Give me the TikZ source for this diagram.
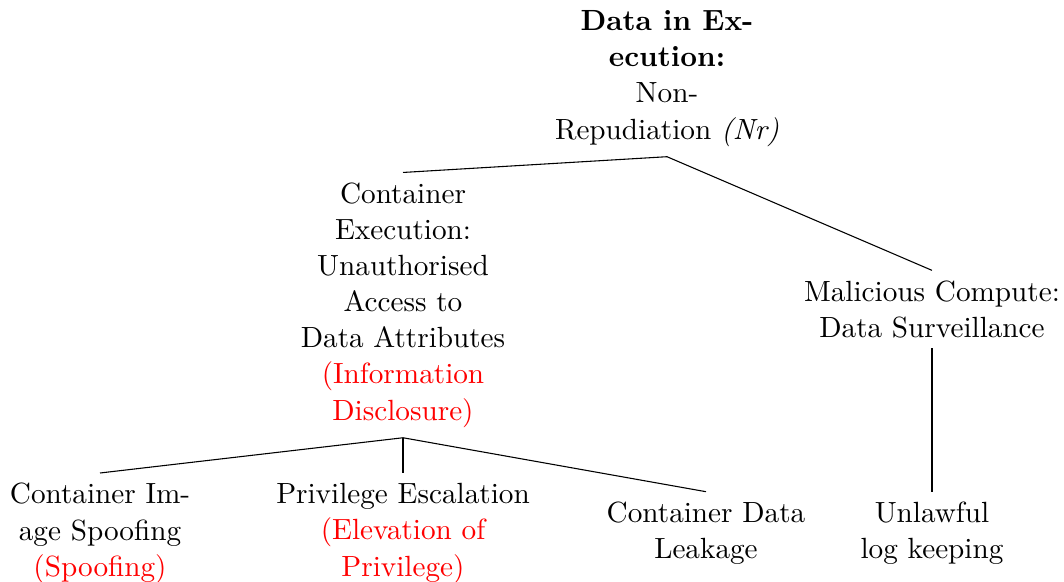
\documentclass[tikz,border=0pt]{standalone}
\usepackage{tikz}
\usetikzlibrary{positioning}
\usepackage{xcolor}
\definecolor{stride}{HTML}{FF0000}

\begin{document}
\begin{tikzpicture}[font=\fontsize{9.74}{12.04}\selectfont,
    t/.style={align=center, inner sep=3.25pt},
    e/.style={draw=black, line width=0.36pt}]
    \useasboundingbox (0,0) rectangle (12.467,-6.819);
    \node[t] (root) at (7.815,-0.920) {\textbf{Data in Ex-}\\ \textbf{ecution:}\\ Non-\\ Repudiation \textit{(Nr)}};
    \node[t] (exec) at (4.722,-3.575) {Container\\ Execution:\\ Unauthorised\\ Access to\\ Data Attributes\\ \textcolor{stride}{(Information}\\ \textcolor{stride}{Disclosure)}};
    \node[t] (mal) at (10.920,-3.625) {Malicious Compute:\\ Data Surveillance};
    \node[t] (spoof) at (1.172,-6.250) {Container Im-\\ age Spoofing\\ \textcolor{stride}{(Spoofing)}};
    \node[t] (priv) at (4.722,-6.250) {Privilege Escalation\\ \textcolor{stride}{(Elevation of}\\ \textcolor{stride}{Privilege)}};
    \node[t] (leak) at (8.272,-6.250) {Container Data\\ Leakage};
    \node[t] (log) at (10.920,-6.250) {Unlawful\\ log keeping};
    \foreach \c in {exec,mal}
      \draw[e] (root.south) -- (\c.north);
    \foreach \c in {spoof,priv,leak}
      \draw[e] (exec.south) -- (\c.north);
    \draw[e] (mal.south) -- (log.north);
  \end{tikzpicture}
\end{document}
